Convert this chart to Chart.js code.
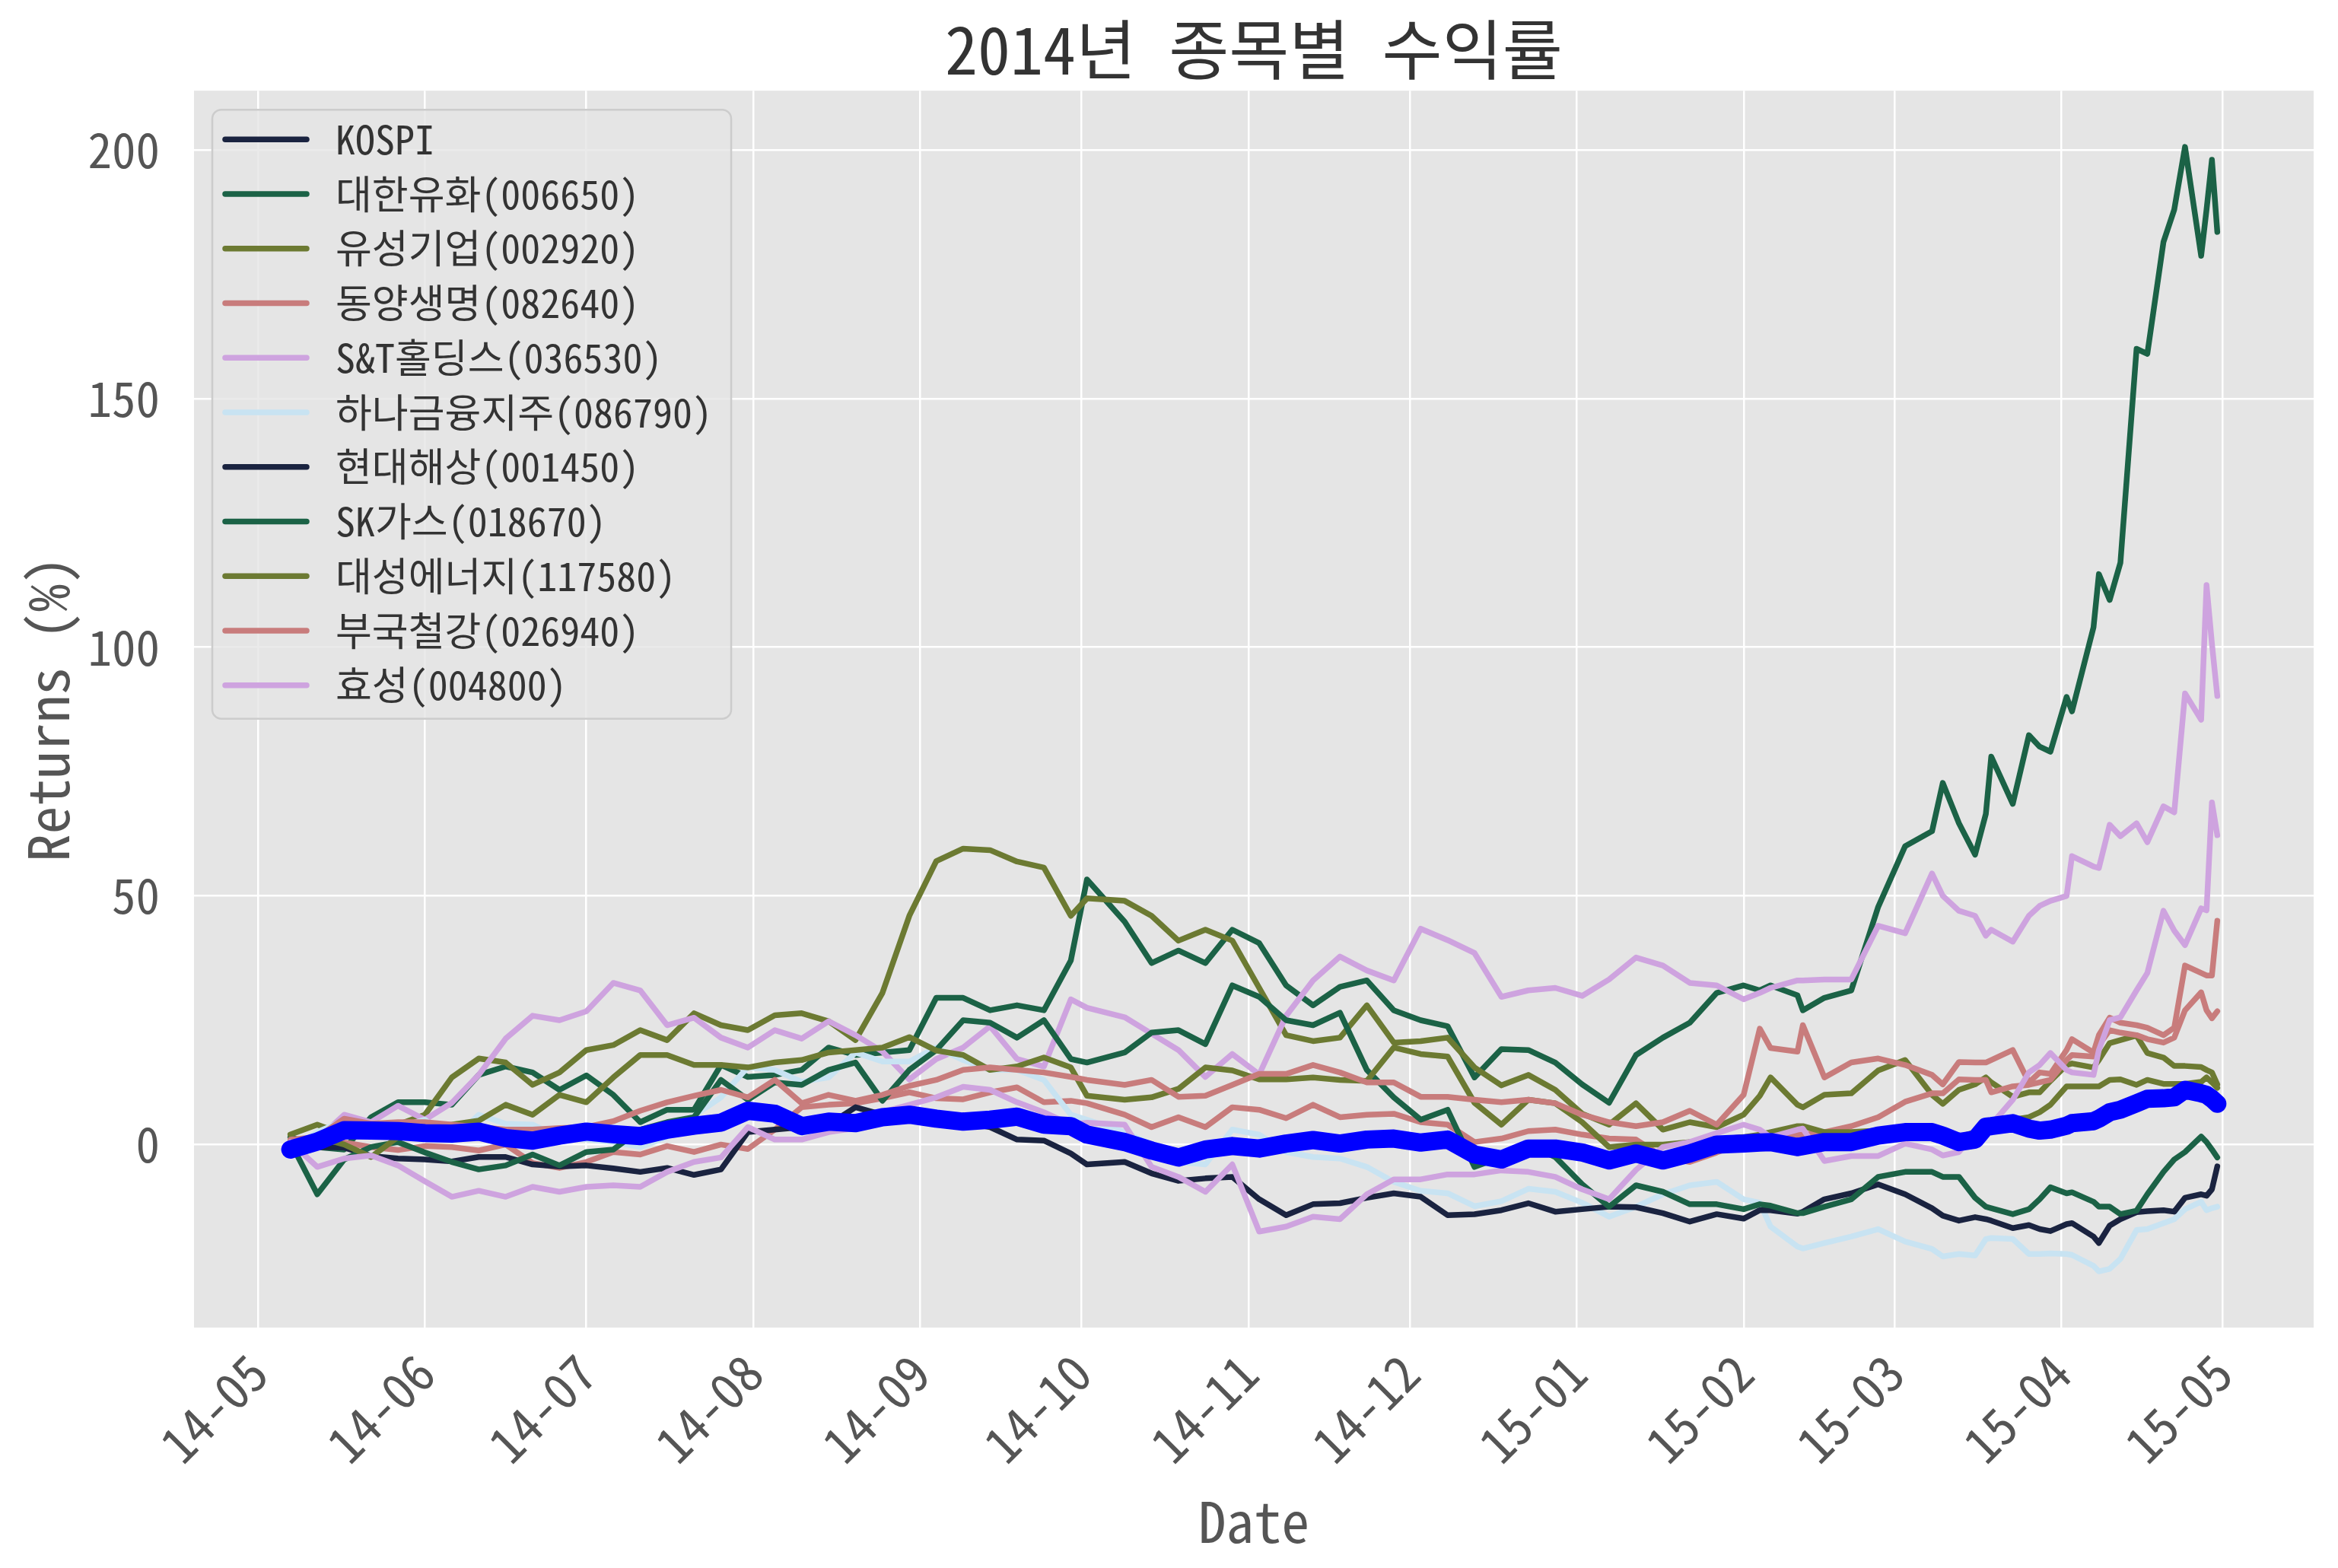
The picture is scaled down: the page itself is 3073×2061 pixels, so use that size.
<!DOCTYPE html>
<html>
<head>
<meta charset="utf-8">
<script src="https://cdn.jsdelivr.net/npm/chart.js@4/dist/chart.umd.min.js"></script>
<style>
html,body{margin:0;padding:0;background:#ffffff;}
canvas{display:block;}
</style>
</head>
<body>
<canvas id="c" width="3073" height="2061" style="width:3073px;height:2061px"></canvas>
<script>
// ---------------- data ----------------
const dates = [
 '2014-05-07','2014-05-12','2014-05-17','2014-05-22','2014-05-27','2014-06-01','2014-06-06','2014-06-11','2014-06-16','2014-06-21',
 '2014-06-26','2014-07-01','2014-07-06','2014-07-11','2014-07-16','2014-07-21','2014-07-26','2014-07-31','2014-08-05','2014-08-10',
 '2014-08-15','2014-08-20','2014-08-25','2014-08-30','2014-09-04','2014-09-09','2014-09-14','2014-09-19','2014-09-24','2014-09-29',
 '2014-10-02','2014-10-09','2014-10-14','2014-10-19','2014-10-24','2014-10-29','2014-11-03','2014-11-08','2014-11-13','2014-11-18',
 '2014-11-23','2014-11-28','2014-12-03','2014-12-08','2014-12-13','2014-12-18','2014-12-23','2014-12-28','2015-01-02','2015-01-07',
 '2015-01-12','2015-01-17','2015-01-22','2015-01-27','2015-02-01','2015-02-04','2015-02-06','2015-02-11','2015-02-12','2015-02-16',
 '2015-02-21','2015-02-26','2015-03-03','2015-03-08','2015-03-10','2015-03-13','2015-03-16','2015-03-18','2015-03-19','2015-03-23',
 '2015-03-26','2015-03-28','2015-03-30','2015-04-02','2015-04-03','2015-04-07','2015-04-08',
 '2015-04-10','2015-04-12','2015-04-15','2015-04-17','2015-04-20','2015-04-22','2015-04-24','2015-04-27','2015-04-28','2015-04-29',
 '2015-04-30'];

const kospi = [
 -1.0, 0.6, 2.9, 2.8, 2.7, 2.3, 2.2, 2.6, 1.3, 0.8,
 1.8, 2.6, 2.1, 1.7, 3.0, 3.8, 4.4, 6.8, 6.2, 3.7,
 4.6, 4.3, 5.5, 6.0, 5.2, 4.6, 5.0, 5.6, 4.0, 3.7,
 2.0, 0.5, -1.2, -2.6, -1.0, -0.3, -0.8, 0.2, 0.9, 0.2,
 1.0, 1.2, 0.4, 1.0, -2.0, -3.0, -0.8, -0.8, -1.6, -3.2,
 -1.8, -3.2, -1.8, 0.0, 0.2, 0.4, 0.5, -0.5, -0.3, 0.5,
 0.5, 1.8, 2.5, 2.5, 1.8, 0.5, 1.0, 3.6, 3.7, 4.3,
 3.2, 2.8, 3.0, 3.8, 4.3, 4.7, 5.2,
 6.5, 7.0, 8.3, 9.2, 9.3, 9.5, 11.0, 10.3, 10.0, 9.2,
 8.2];

const daehanYuhwa = [
 1.5, -0.5, -1.0, 5.5, 8.5, 8.5, 8.0, 14.0, 15.7, 14.5,
 11.0, 13.9, 10.0, 4.5, 7.0, 7.0, 16.0, 13.6, 14.0, 15.0,
 19.5, 18.0, 18.5, 19.0, 29.5, 29.5, 27.0, 28.0, 27.0, 37.0,
 53.3, 44.8, 36.5, 39.0, 36.5, 43.2, 40.5, 32.0, 28.0, 31.7,
 33.0, 27.0, 25.0, 23.8, 13.5, 19.2, 19.0, 16.5, 12.1, 8.4,
 18.0, 21.5, 24.5, 30.5, 32.0, 31.0, 32.0, 30.0, 27.0, 29.5,
 31.0, 47.8, 60.0, 63.0, 72.7, 64.6, 58.3, 66.5, 78.0, 68.5,
 82.3, 80.0, 79.0, 90.0, 87.1, 104.0, 114.7,
 109.5, 117.0, 160.0, 159.0, 181.5, 188.0, 200.6, 178.7, 188.0, 198.0,
 183.5];

const yusungGiup = [
 2.0, 4.0, 2.0, 3.5, 4.0, 6.0, 13.5, 17.3, 16.5, 12.0,
 14.5, 19.0, 20.0, 23.0, 21.0, 26.4, 24.0, 23.0, 26.0, 26.4,
 24.8, 21.0, 30.5, 46.0, 57.0, 59.5, 59.2, 56.9, 55.7, 46.0,
 49.5, 49.0, 46.0, 41.0, 43.2, 41.0, 31.5, 22.0, 20.8, 21.5,
 28.0, 20.5, 20.8, 21.5, 15.5, 11.9, 14.0, 11.0, 6.2, 4.0,
 8.3, 3.0, 4.5, 3.5, 6.0, 9.8, 13.5, 8.0, 7.5, 10.0,
 10.3, 14.9, 17.0, 10.0, 8.2, 11.0, 12.1, 13.5, 12.5, 9.6,
 10.5, 10.5, 12.8, 16.0, 16.3, 15.5, 17.0,
 20.4, 21.0, 21.9, 18.4, 17.5, 15.8, 15.8, 15.6, 15.0, 14.5,
 12.1];

const dongyangLife = [
 0.5, 1.0, 0.4, -0.5, -1.1, -0.3, -0.5, -1.2, 0.0, -3.7,
 -4.7, -3.5, -1.5, -2.0, -0.3, -1.5, 0.0, -0.9, 3.0, 7.5,
 8.0, 8.3, 9.3, 10.5, 9.3, 9.1, 10.5, 11.5, 8.5, 8.8,
 8.3, 6.0, 3.5, 5.5, 3.5, 7.5, 7.0, 5.3, 8.0, 5.5,
 6.0, 6.2, 4.5, 4.0, 0.5, 1.2, 2.7, 3.0, 2.0, 1.2,
 1.0, -2.5, -3.5, -1.6, 0.5, 1.0, 1.0, 2.0, 2.0, 2.5,
 3.7, 5.5, 8.6, 10.3, 10.3, 13.1, 13.0, 13.0, 10.5, 11.7,
 12.0, 12.5, 13.0, 17.0, 18.0, 17.7, 20.0,
 23.0, 22.5, 22.0, 21.2, 20.5, 21.5, 27.0, 30.6, 27.0, 25.4,
 26.8];

const stHoldings = [
 0.5, 1.0, 6.0, 4.5, 7.8, 5.0, 8.4, 14.0, 21.3, 25.9,
 25.0, 26.8, 32.5, 31.0, 24.0, 25.5, 21.5, 19.5, 23.0, 21.3,
 24.8, 22.0, 18.7, 13.1, 17.2, 19.5, 23.8, 17.2, 15.7, 29.2,
 27.5, 25.6, 22.3, 19.0, 13.6, 18.2, 14.1, 25.9, 33.0, 37.8,
 35.0, 33.0, 43.4, 41.1, 38.5, 29.7, 31.0, 31.5, 29.9, 33.2,
 37.6, 36.0, 32.5, 32.0, 29.2, 30.5, 31.5, 33.0, 33.0, 33.2,
 33.2, 44.0, 42.5, 54.5, 50.0, 47.0, 46.0, 42.0, 43.2, 40.8,
 46.0, 48.0, 49.0, 50.0, 58.0, 55.9, 55.6,
 64.3, 62.0, 64.6, 60.8, 68.0, 66.8, 90.7, 85.4, 112.5, 100.7,
 90.2];

const hanaFinancial = [
 -1.0, 2.5, 4.8, 4.0, 3.5, 5.0, 0.8, 6.0, 4.2, 4.0,
 1.5, 1.0, 0.5, -0.5, 1.5, 5.8, 9.5, 15.6, 15.0, 12.6,
 13.5, 18.5, 16.7, 16.7, 19.5, 17.0, 15.0, 15.0, 13.0, 6.0,
 5.0, 2.5, 0.0, -3.5, -4.0, 3.0, 2.0, -1.5, -2.5, -2.8,
 -4.5, -7.5, -9.3, -9.8, -12.4, -11.4, -8.9, -9.5, -11.7, -14.5,
 -12.5, -10.0, -8.2, -7.5, -11.0, -11.7, -16.5, -20.5, -20.9, -19.8,
 -18.5, -17.0, -19.5, -21.0, -22.5, -22.0, -22.3, -19.0, -18.8, -19.0,
 -22.0, -22.0, -21.9, -22.0, -22.2, -24.4, -25.5,
 -25.0, -23.0, -17.2, -17.0, -15.8, -15.0, -13.0, -11.5, -13.2, -12.8,
 -12.5];

const hyundaiMarine = [
 -0.5, -0.5, -0.6, -2.3, -2.8, -3.0, -3.4, -2.5, -2.5, -4.0,
 -4.4, -4.2, -4.8, -5.5, -4.7, -6.1, -5.0, 2.5, 3.0, 3.5,
 4.0, 7.5, 6.0, 6.5, 5.5, 4.5, 3.5, 1.0, 0.8, -1.8,
 -4.0, -3.5, -5.8, -7.3, -6.8, -6.5, -11.0, -14.2, -12.0, -11.8,
 -10.7, -9.8, -10.5, -14.2, -14.0, -13.2, -11.8, -13.5, -13.0, -12.5,
 -12.6, -13.8, -15.5, -14.0, -14.9, -13.2, -13.2, -13.9, -13.5, -11.0,
 -9.8, -8.0, -10.0, -12.8, -14.3, -15.3, -14.6, -15.0, -15.3, -16.8,
 -16.2, -17.0, -17.4, -16.0, -15.8, -18.5, -19.8,
 -16.3, -15.0, -13.6, -13.4, -13.2, -13.5, -10.7, -10.0, -10.3, -9.0,
 -4.4];

const skGas = [
 0.5, -10.0, -3.0, -0.5, 0.5, -1.6, -3.5, -5.0, -4.2, -2.0,
 -4.2, -1.5, -1.0, 3.0, 4.5, 5.5, 13.0, 9.0, 12.5, 12.0,
 15.0, 16.5, 8.8, 15.0, 19.0, 25.0, 24.5, 21.5, 25.0, 17.2,
 16.5, 18.5, 22.5, 23.0, 20.2, 32.0, 29.7, 25.0, 24.0, 26.5,
 15.0, 9.5, 5.0, 7.0, -4.5, -2.5, 0.0, -2.5, -8.0, -12.5,
 -8.2, -9.5, -12.0, -12.0, -13.0, -12.0, -12.3, -13.8, -13.8, -12.5,
 -11.0, -6.5, -5.5, -5.5, -6.5, -6.5, -10.7, -12.5, -12.8, -14.0,
 -13.0, -11.0, -8.6, -9.8, -9.6, -11.5, -12.5,
 -12.5, -14.0, -13.3, -10.0, -5.5, -3.0, -1.5, 1.6, 0.5, -1.0,
 -2.6];

const daesungEnergy = [
 -1.0, 1.5, 0.0, -2.5, 1.5, 3.5, 4.0, 4.8, 8.0, 6.0,
 10.0, 8.5, 13.5, 18.0, 18.0, 16.0, 16.0, 15.5, 16.5, 17.0,
 18.5, 19.0, 19.5, 21.6, 18.9, 18.0, 15.0, 15.7, 17.5, 15.5,
 9.8, 9.0, 9.5, 11.2, 15.5, 14.9, 13.1, 13.1, 13.5, 13.0,
 12.8, 19.5, 18.2, 17.7, 8.4, 4.0, 9.0, 8.3, 4.5, -0.5,
 0.0, 0.0, 0.5, 1.0, 1.5, 2.0, 2.5, 3.7, 3.7, 2.5,
 2.5, 2.8, 2.0, 1.5, 1.5, 1.5, 2.5, 3.5, 3.5, 5.0,
 5.5, 6.5, 8.0, 11.7, 11.7, 11.7, 11.7,
 13.0, 13.1, 12.0, 13.0, 12.2, 12.2, 12.2, 12.6, 13.5, 12.5,
 11.4];

const bukukSteel = [
 1.0, 1.5, 5.2, 4.2, 4.5, 4.5, 4.0, 3.5, 3.0, 3.0,
 3.3, 3.5, 4.7, 6.8, 8.5, 9.8, 11.0, 9.5, 13.0, 8.3,
 10.0, 8.8, 10.0, 11.8, 13.0, 15.0, 15.5, 15.0, 14.5, 13.6,
 13.0, 12.0, 13.0, 9.6, 9.8, 12.0, 14.2, 14.2, 16.0, 14.5,
 12.5, 12.5, 9.6, 9.6, 9.0, 8.5, 9.0, 8.3, 6.0, 4.5,
 3.7, 4.5, 6.8, 4.0, 10.0, 23.3, 19.4, 18.7, 24.0, 13.5,
 16.5, 17.3, 16.0, 14.0, 12.1, 16.6, 16.5, 16.5, 17.0, 19.0,
 12.5, 14.5, 14.2, 19.0, 21.2, 18.5, 22.0,
 25.5, 24.5, 24.0, 23.5, 22.0, 23.5, 36.0, 34.5, 34.0, 34.0,
 45.0];

const hyosung = [
 0.5, -4.5, -2.8, -2.2, -4.2, -7.4, -10.5, -9.3, -10.5, -8.5,
 -9.5, -8.5, -8.2, -8.5, -5.5, -3.5, -2.6, 3.5, 1.0, 1.0,
 2.5, 3.3, 6.5, 8.0, 9.5, 11.6, 11.0, 8.5, 6.5, 4.0,
 4.4, 4.0, -4.5, -6.5, -9.5, -4.0, -17.5, -16.5, -14.5, -15.0,
 -10.0, -7.0, -7.0, -6.0, -6.0, -5.2, -5.5, -6.5, -9.0, -11.0,
 -5.1, -0.5, 0.5, 2.3, 4.0, 3.0, 1.5, 3.0, 3.2, -3.3,
 -2.3, -2.3, 0.2, -1.0, -2.2, -1.5, 2.5, 3.0, 4.0, 9.0,
 14.5, 16.0, 18.4, 15.0, 14.5, 14.0, 19.0,
 25.0, 25.6, 31.0, 34.5, 47.0, 43.0, 40.1, 47.5, 47.1, 68.8,
 62.2];

const seriesNames = ['KOSPI','대한유화(006650)','유성기업(002920)','동양생명(082640)','S&T홀딩스(036530)',
  '하나금융지주(086790)','현대해상(001450)','SK가스(018670)','대성에너지(117580)','부국철강(026940)','효성(004800)'];
const seriesValues = [kospi, daehanYuhwa, yusungGiup, dongyangLife, stHoldings,
  hanaFinancial, hyundaiMarine, skGas, daesungEnergy, bukukSteel, hyosung];
const paletteColors = ['#1a2340','#1b6246','#6c7a32','#c87c7c','#cea3df','#c8e3f2'];
const highlightColor = '#0000ff';

const xTickDates = ['2014-05-01','2014-06-01','2014-07-01','2014-08-01','2014-09-01','2014-10-01','2014-11-01',
  '2014-12-01','2015-01-01','2015-02-01','2015-03-01','2015-04-01','2015-05-01'];
const xTickLabels = ['14-05','14-06','14-07','14-08','14-09','14-10','14-11','14-12','15-01','15-02','15-03','15-04','15-05'];
const yTickValues = [0, 50, 100, 150, 200];

const titleText = '2014년 종목별 수익률';
const xTitle = 'Date';
const yTitle = 'Returns (%)';

// ---------------- helpers ----------------
const FONT = "'Noto Sans Mono CJK KR', 'Noto Sans CJK KR', 'DejaVu Sans Mono', monospace";
const DAY0 = Date.UTC(2014, 4, 1);
const toDay = s => (Date.parse(s) - DAY0) / 86400000;
const days = dates.map(toDay);
const xTickDays = xTickDates.map(toDay);

const allVals = seriesValues.flat();
const vMin = Math.min(...allVals), vMax = Math.max(...allVals);
const yPad = (vMax - vMin) * 0.05;
const xSpan = days[days.length - 1] - days[0];
const xMin = days[0] - xSpan * 0.05, xMax = days[days.length - 1] + xSpan * 0.05;

const LINE_W = 7.5;
const datasets = seriesNames.map((name, i) => ({
  label: name,
  data: seriesValues[i].map((v, j) => ({x: days[j], y: v})),
  borderColor: paletteColors[i % paletteColors.length],
  backgroundColor: paletteColors[i % paletteColors.length],
  borderWidth: LINE_W,
  pointRadius: 0,
  tension: 0,
  fill: false,
  borderCapStyle: 'round',
  borderJoinStyle: 'round',
  order: 30 - i
}));
datasets.push({
  label: 'KOSPI_highlight',
  data: kospi.map((v, j) => ({x: days[j], y: v})),
  borderColor: highlightColor,
  backgroundColor: highlightColor,
  borderWidth: 24,
  pointRadius: 0,
  tension: 0,
  fill: false,
  borderCapStyle: 'round',
  borderJoinStyle: 'round',
  order: 0
});

const bgPlugin = {
  id: 'bg',
  beforeDraw(chart) {
    const {ctx, chartArea: a} = chart;
    ctx.save();
    ctx.fillStyle = '#ffffff';
    ctx.fillRect(0, 0, chart.width, chart.height);
    ctx.fillStyle = '#e5e5e5';
    ctx.fillRect(a.left, a.top, a.right - a.left, a.bottom - a.top);
    ctx.restore();
  }
};

function roundRectPath(ctx, x, y, w, h, r) {
  ctx.beginPath();
  ctx.moveTo(x + r, y);
  ctx.lineTo(x + w - r, y);
  ctx.arcTo(x + w, y, x + w, y + r, r);
  ctx.lineTo(x + w, y + h - r);
  ctx.arcTo(x + w, y + h, x + w - r, y + h, r);
  ctx.lineTo(x + r, y + h);
  ctx.arcTo(x, y + h, x, y + h - r, r);
  ctx.lineTo(x, y + r);
  ctx.arcTo(x, y, x + r, y, r);
  ctx.closePath();
}

const legendPlugin = {
  id: 'boxLegend',
  afterDraw(chart) {
    const {ctx, chartArea: a} = chart;
    const fs = 52, rowH = 71.75;
    ctx.save();
    ctx.font = fs + 'px ' + FONT;
    let maxW = 0;
    seriesNames.forEach(n => { maxW = Math.max(maxW, ctx.measureText(n).width); });
    const bx = a.left + 24, by = a.top + 25;
    const textX = a.left + 186;
    const bw = (textX - bx) + maxW + 25;
    const bh = 39 + rowH * (seriesNames.length - 1) + 44;
    roundRectPath(ctx, bx, by, bw, bh, 12);
    ctx.fillStyle = 'rgba(229,229,229,0.8)';
    ctx.fill();
    ctx.lineWidth = 2.5;
    ctx.strokeStyle = '#cccccc';
    ctx.stroke();
    seriesNames.forEach((n, i) => {
      const y = by + 39 + i * rowH;
      ctx.beginPath();
      ctx.moveTo(a.left + 41, y);
      ctx.lineTo(a.left + 148, y);
      ctx.strokeStyle = paletteColors[i % paletteColors.length];
      ctx.lineWidth = LINE_W;
      ctx.lineCap = 'round';
      ctx.stroke();
      ctx.fillStyle = '#333333';
      ctx.textAlign = 'left';
      ctx.textBaseline = 'middle';
      ctx.fillText(n, textX, y);
    });
    ctx.restore();
  }
};

new Chart(document.getElementById('c'), {
  type: 'line',
  data: {datasets},
  plugins: [bgPlugin, legendPlugin],
  options: {
    responsive: false,
    animation: false,
    devicePixelRatio: 1,
    layout: {padding: {left: 0, right: 32, top: 0, bottom: 0}},
    plugins: {
      legend: {display: false},
      tooltip: {enabled: false},
      title: {
        display: true, text: titleText, fullSize: false, color: '#333333',
        font: {family: FONT, size: 86, weight: 'normal'},
        padding: {top: 14, bottom: 2}
      }
    },
    scales: {
      x: {
        type: 'linear', min: xMin, max: xMax,
        afterBuildTicks: s => { s.ticks = xTickDays.map(v => ({value: v})); },
        afterFit: s => { s.height = 316; },
        ticks: {
          autoSkip: false, minRotation: 45, maxRotation: 45, padding: 20,
          color: '#555555', font: {family: FONT, size: 66},
          callback: (v, i) => xTickLabels[i]
        },
        grid: {color: '#ffffff', lineWidth: 2.5, drawTicks: false},
        border: {display: false},
        title: {display: true, text: xTitle, color: '#555555', font: {family: FONT, size: 73},
                padding: {top: 0, bottom: 17}}
      },
      y: {
        type: 'linear', min: vMin - yPad, max: vMax + yPad,
        afterBuildTicks: s => { s.ticks = yTickValues.map(v => ({value: v})); },
        afterFit: s => { s.width = 255; },
        ticks: {padding: 45, color: '#555555', font: {family: FONT, size: 63}, callback: v => String(v)},
        grid: {color: '#ffffff', lineWidth: 2.5, drawTicks: false},
        border: {display: false},
        title: {display: true, text: yTitle, color: '#555555', font: {family: FONT, size: 73},
                padding: {top: 19, bottom: 0}}
      }
    }
  }
});
</script>
</body>
</html>
